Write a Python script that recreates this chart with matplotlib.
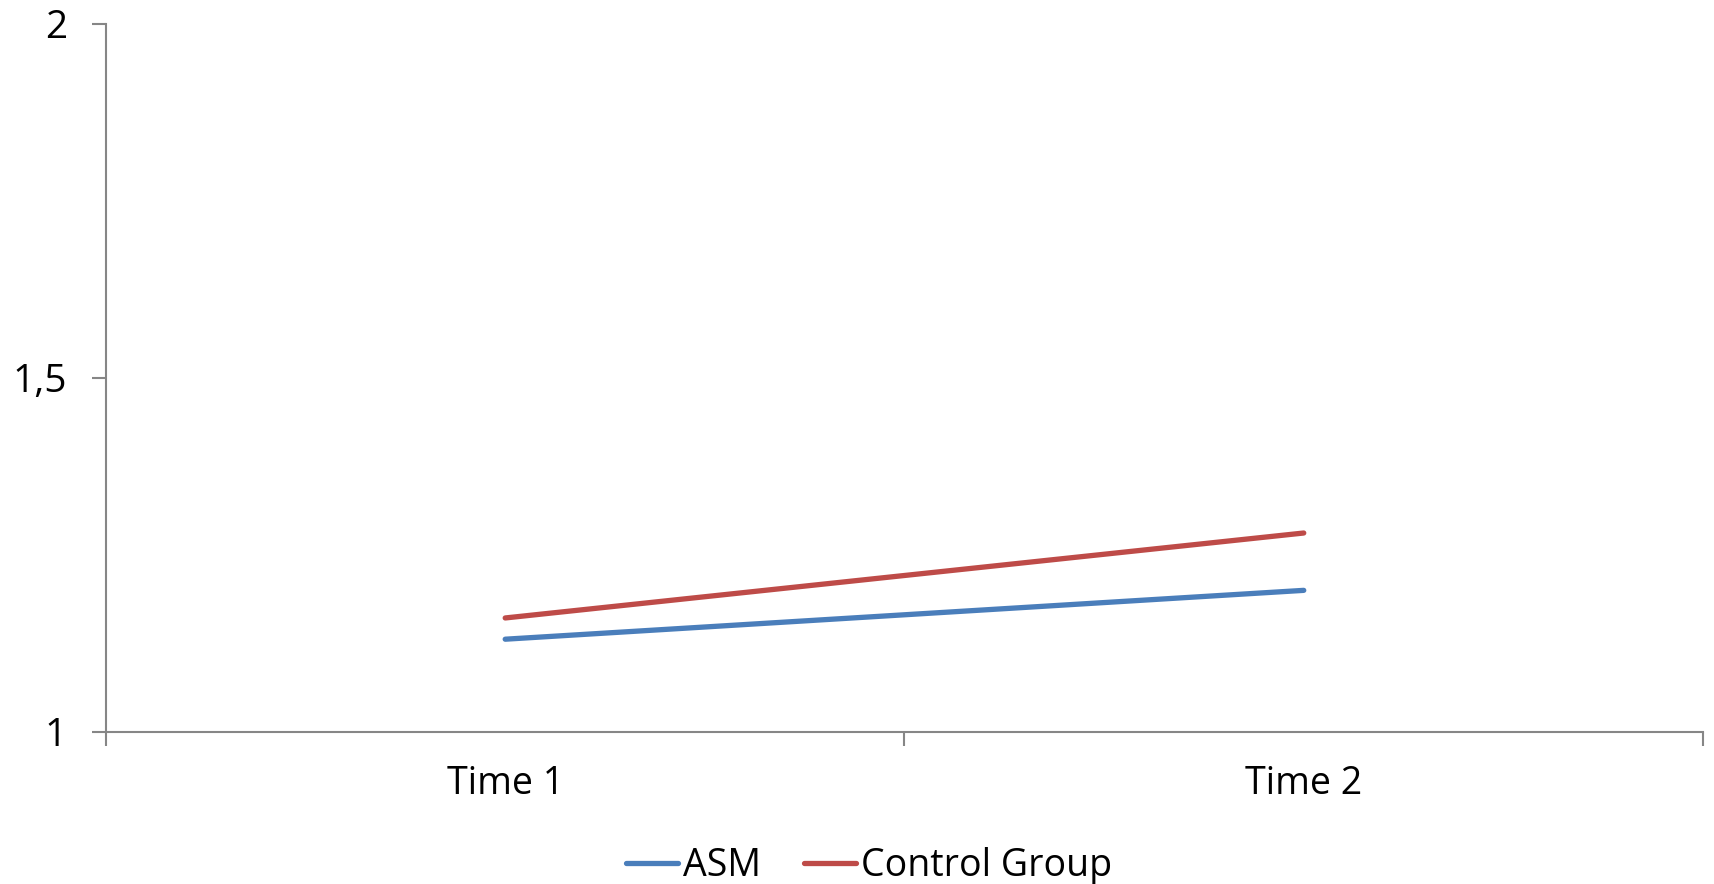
import matplotlib
matplotlib.use("Agg")
import matplotlib.pyplot as plt

# data
categories = ["Time 1", "Time 2"]
asm_values = [1.131, 1.200]
control_values = [1.161, 1.281]
y_ticks = [1.0, 1.5, 2.0]
y_tick_labels = ["1", "1,5", "2"]

plt.rcParams['font.family'] = ['Open Sans', 'DejaVu Sans']

fig = plt.figure(figsize=(17.14, 8.84), dpi=100)
ax = fig.add_axes([0.0618, 0.172, 0.9318, 0.8009])

x = list(range(len(categories)))
ax.plot(x, asm_values, color="#4A7EBB", lw=3.8, solid_capstyle="round", label="ASM")
ax.plot(x, control_values, color="#BE4B48", lw=3.8, solid_capstyle="round", label="Control Group")

ax.set_xlim(-0.5, len(categories) - 0.5)
ax.set_ylim(1, 2)

# category labels sit between the tick marks
ax.set_xticks([-0.5, 0.5, 1.5])
ax.set_xticklabels([])
ax.set_xticks(x, minor=True)
ax.set_xticklabels(categories, minor=True)
ax.tick_params(axis="x", which="minor", length=0, pad=24, labelsize=27)
ax.tick_params(axis="x", which="major", length=10, width=1.5, color="#868686", direction="out")

ax.set_yticks(y_ticks)
ax.set_yticklabels(y_tick_labels)
ax.tick_params(axis="y", length=10, width=1.5, color="#868686", direction="out", pad=18, labelsize=28)

for side in ["top", "right"]:
    ax.spines[side].set_visible(False)
for side in ["left", "bottom"]:
    ax.spines[side].set_color("#868686")
    ax.spines[side].set_linewidth(1.5)

fig.legend(loc="center", bbox_to_anchor=(0.507, 0.02), ncol=2, frameon=False,
           fontsize=27, handlelength=1.4, handletextpad=0.12, columnspacing=1.15)

fig.savefig("out.png", dpi=100)
